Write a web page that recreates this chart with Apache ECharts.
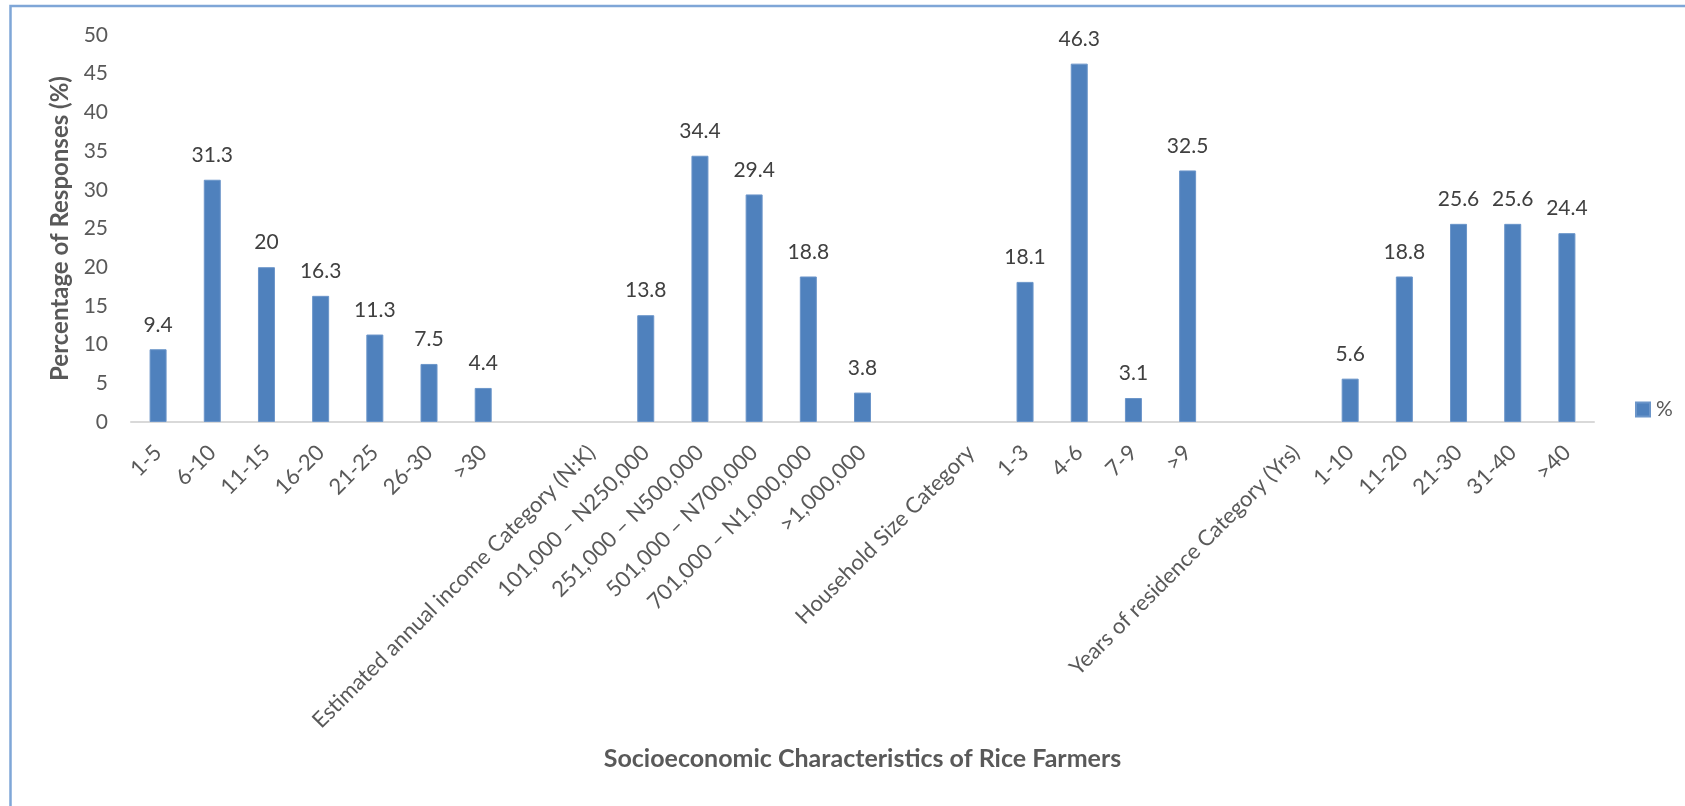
<!DOCTYPE html>
<html>
<head>
<meta charset="utf-8">
<title>Socioeconomic Characteristics of Rice Farmers</title>
<script src="https://cdn.jsdelivr.net/npm/echarts@6/dist/echarts.min.js"></script>
<style>
  html, body { margin: 0; padding: 0; background: #ffffff; }
  #chart { width: 1685px; height: 806px; }
</style>
</head>
<body>
<div id="chart"></div>
<script>
// Age groups (no header on the axis)
const ageLabels = ['1-5', '6-10', '11-15', '16-20', '21-25', '26-30', '>30'];
const ageValues = [9.4, 31.3, 20, 16.3, 11.3, 7.5, 4.4];

// Estimated annual income
const incomeHeader = 'Estimated annual income Category (N:K)';
const incomeLabels = ['101,000 – N250,000', '251,000 – N500,000', '501,000 – N700,000', '701,000 – N1,000,000', '>1,000,000'];
const incomeValues = [13.8, 34.4, 29.4, 18.8, 3.8];

// Household size
const householdHeader = 'Household Size Category';
const householdLabels = ['1-3', '4-6', '7-9', '>9'];
const householdValues = [18.1, 46.3, 3.1, 32.5];

// Years of residence
const residenceHeader = 'Years of residence Category (Yrs)';
const residenceLabels = ['1-10', '11-20', '21-30', '31-40', '>40'];
const residenceValues = [5.6, 18.8, 25.6, 25.6, 24.4];

const yTicks = { min: 0, max: 50, interval: 5 };

// Build one category axis: each later group is preceded by a blank slot and its header slot
const categories = [];
const values = [];
function addGroup(header, labels, vals) {
  if (header !== null) {
    categories.push('');
    values.push(null);
    categories.push(header);
    values.push(null);
  }
  labels.forEach((l, i) => { categories.push(l); values.push(vals[i]); });
}
addGroup(null, ageLabels, ageValues);
addGroup(incomeHeader, incomeLabels, incomeValues);
addGroup(householdHeader, householdLabels, householdValues);
addGroup(residenceHeader, residenceLabels, residenceValues);

const FONT = 'Lato, "Open Sans", sans-serif';
const chart = echarts.init(document.getElementById('chart'), null, { renderer: 'canvas' });

chart.setOption({
  backgroundColor: '#ffffff',
  animation: false,
  textStyle: { fontFamily: FONT },
  graphic: [{
    type: 'rect',
    shape: { x: 10.5, y: 6, width: 1720, height: 840 },
    style: { fill: 'none', stroke: '#7fa6d7', lineWidth: 2.5 },
    silent: true
  }],
  legend: {
    data: ['%'],
    left: 1630,
    top: 394,
    itemWidth: 14,
    itemHeight: 14,
    itemGap: 6,
    icon: 'rect',
    textStyle: { fontFamily: FONT, fontSize: 21, color: '#595959', padding: [0, 0, 0, 1] }
  },
  grid: { left: 131, right: 91, top: 35, bottom: 384, containLabel: false },
  xAxis: {
    type: 'category',
    data: categories,
    name: 'Socioeconomic Characteristics of Rice Farmers',
    nameLocation: 'middle',
    nameGap: 324,
    nameTextStyle: { fontFamily: FONT, fontSize: 25, fontWeight: 'bold', color: '#595959' },
    axisLine: { show: true, lineStyle: { color: '#d9d9d9', width: 2 } },
    axisTick: { show: false },
    axisLabel: {
      interval: 0,
      rotate: 45,
      margin: 27,
      fontFamily: FONT,
      fontSize: 22,
      color: '#595959'
    },
    splitLine: { show: false }
  },
  yAxis: {
    type: 'value',
    min: yTicks.min,
    max: yTicks.max,
    interval: yTicks.interval,
    name: 'Percentage of Responses (%)',
    nameLocation: 'middle',
    nameGap: 57,
    nameRotate: 90,
    nameTextStyle: { fontFamily: FONT, fontSize: 24, fontWeight: 'bold', color: '#595959' },
    axisLine: { show: false },
    axisTick: { show: false },
    splitLine: { show: false },
    axisLabel: { margin: 23, fontFamily: FONT, fontSize: 21, color: '#595959' }
  },
  series: [{
    name: '%',
    type: 'bar',
    data: values,
    barWidth: 17,
    itemStyle: { color: '#4f81bd', borderColor: '#6b95c9', borderWidth: 1 },
    label: {
      show: true,
      position: 'top',
      distance: 14,
      fontFamily: FONT,
      fontSize: 21,
      color: '#404040'
    }
  }]
});
</script>
</body>
</html>
